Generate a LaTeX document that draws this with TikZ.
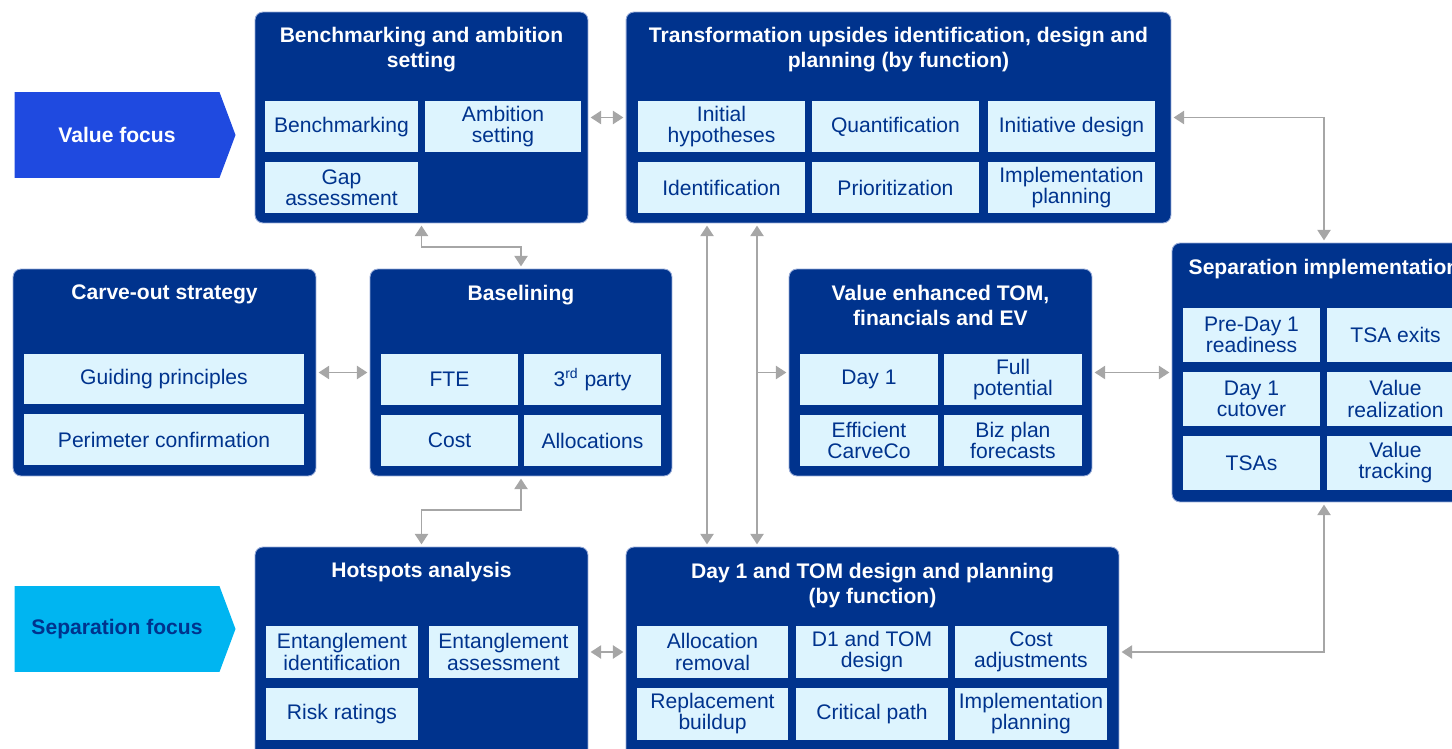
\documentclass[tikz,border=0pt]{standalone}
\usepackage{fontspec}
\setmainfont{Liberation Sans}
\setsansfont{Liberation Sans}
\usetikzlibrary{arrows.meta}
\usetikzlibrary{positioning,shapes.symbols}
\definecolor{navy}{RGB}{0,51,141}
\definecolor{cellblue}{RGB}{221,244,254}
\definecolor{rimblue}{RGB}{150,170,215}
\definecolor{valueblue}{RGB}{31,74,224}
\definecolor{sepblue}{RGB}{0,181,241}
\definecolor{linkgray}{RGB}{166,166,166}
\tikzset{
    every node/.style={font=\fontsize{12}{12}\selectfont, outer sep=0pt},
    panel/.style 2 args={draw=rimblue, line width=0.5pt, fill=navy, rounded corners=4.5pt,
        minimum width=#1, minimum height=#2},
    heading/.style={text=white, align=center, inner sep=0pt,
        font=\fontsize{12}{14.2}\selectfont\bfseries},
    cell/.style={fill=cellblue, text=navy, align=center, inner sep=1pt,
        minimum height=1.02cm, minimum width=#1},
    focus/.style={signal, signal to=east, signal pointer angle=139, inner sep=0pt,
        minimum width=4.42cm, minimum height=1.72cm, font=\fontsize{12}{12}\selectfont\bfseries},
    link/.style={draw=linkgray, line width=1.1pt}
}
\begin{document}
\begin{tikzpicture}[
            x = 0.02cm, y = -0.02cm, % one unit per pixel
            > = {Triangle[length=6pt, width=7.5pt]}, % arrow head style
            shorten > = 1.5pt, shorten < = 1.5pt, % don't touch arrow head to box
            node distance = 0.2cm and 0.14cm % gaps between cells
        ]
        \useasboundingbox (0,0) rectangle (1452,749);
        \clip (0,0) rectangle (1452,749);

        % focus tags
        \node[focus, fill = valueblue, text = white] (valfocus) at (117,135) {Value focus};
        \node[focus, fill = sepblue, text = navy] (sepfocus) at (117,629) {Separation focus};

        % panels
        \node[panel={6.66cm}{4.22cm}] (bench) at (421.5,117.5) {};
        \node[panel={10.9cm}{4.22cm}] (trans) at (898.5,117.5) {};
        \node[panel={6.06cm}{4.14cm}] (carve) at (164.5,372.5) {};
        \node[panel={6.04cm}{4.14cm}] (base) at (521,372.5) {};
        \node[panel={6.06cm}{4.14cm}] (vet) at (940.5,372.5) {};
        \node[panel={6.08cm}{5.18cm}] (sep) at (1324,372.5) {};
        \node[panel={6.66cm}{4.2cm}] (hot) at (421.5,652) {};
        \node[panel={9.86cm}{4.2cm}] (day) at (872.5,652) {};

        \node[heading, below=0.31cm of bench.north] (benchT) {Benchmarking and ambition\\setting};
        \node[heading, below=0.31cm of trans.north] (transT) {Transformation upsides identification, design and\\planning (by function)};
        \node[heading, below=0.32cm of carve.north] (carveT) {Carve-out strategy};
        \node[heading, below=0.32cm of base.north] (baseT) {Baselining};
        \node[heading, below=0.32cm of vet.north] (vetT) {Value enhanced TOM,\\financials and EV};
        \node[heading, below=0.33cm of sep.north] (sepT) {Separation implementation};
        \node[heading, below=0.31cm of hot.north] (hotT) {Hotspots analysis};
        \node[heading, below=0.32cm of day.north] (dayT) {Day 1 and TOM design and planning\\(by function)};

        % benchmarking
        \node[cell=3.06cm] (bm) at (341.5,127) {Benchmarking};
        \node[cell=3.12cm, right=of bm] (amb) {Ambition\\setting};
        \node[cell=3.06cm, below=of bm] (gap) {Gap\\assessment};

        % transformation
        \node[cell=3.34cm] (hyp) at (721.5,127) {Initial\\hypotheses};
        \node[cell=3.34cm, right=of hyp] (quant) {Quantification};
        \node[cell=3.34cm, right=0.18cm of quant] (idesign) {Initiative design};
        \node[cell=3.34cm, below=of hyp] (ident) {Identification};
        \node[cell=3.34cm, below=of quant] (prio) {Prioritization};
        \node[cell=3.34cm, below=of idesign] (iplan) {Implementation\\planning};

        % carve-out
        \node[cell=5.6cm] (guide) at (164,379) {Guiding principles};
        \node[cell=5.6cm, below=of guide] (perim) {Perimeter confirmation};

        % baselining
        \node[cell=2.74cm] (fte) at (449.5,379.5) {FTE};
        \node[cell=2.74cm, right=0.12cm of fte] (third) {3\textsuperscript{rd} party};
        \node[cell=2.74cm, below=of fte] (cost) {Cost};
        \node[cell=2.74cm, below=of third] (alloc) {Allocations};

        % value enhanced TOM
        \node[cell=2.76cm] (dayone) at (869,379.5) {Day 1};
        \node[cell=2.76cm, right=0.12cm of dayone] (fullpot) {Full\\potential};
        \node[cell=2.76cm, below=of dayone] (effco) {Efficient\\CarveCo};
        \node[cell=2.76cm, below=of fullpot] (bizplan) {Biz plan\\forecasts};

        % separation implementation
        \node[cell=2.74cm, minimum height=1.08cm] (preday) at (1251.5,335) {Pre-Day 1\\readiness};
        \node[cell=2.74cm, minimum height=1.08cm, right=of preday] (tsaexit) {TSA exits};
        \node[cell=2.74cm, minimum height=1.08cm, below=of preday] (cutover) {Day 1\\cutover};
        \node[cell=2.74cm, minimum height=1.08cm, below=of tsaexit] (vreal) {Value\\realization};
        \node[cell=2.74cm, minimum height=1.08cm, below=of cutover] (tsas) {TSAs};
        \node[cell=2.74cm, minimum height=1.08cm, below=of vreal] (vtrack) {Value\\tracking};

        % hotspots
        \node[cell=3.04cm, minimum height=1.04cm] (entid) at (342,652) {Entanglement\\identification};
        \node[cell=2.98cm, minimum height=1.04cm, right=0.22cm of entid] (entas) {Entanglement\\assessment};
        \node[cell=3.04cm, minimum height=1.04cm, below=of entid] (risk) {Risk ratings};

        % day 1 and TOM
        \node[cell=3.02cm, minimum height=1.04cm] (allocrem) at (712.5,652) {Allocation\\removal};
        \node[cell=3.04cm, minimum height=1.04cm, right=0.16cm of allocrem] (tomdes) {D1 and TOM\\design};
        \node[cell=3.04cm, minimum height=1.04cm, right=of tomdes] (costadj) {Cost\\adjustments};
        \node[cell=3.02cm, minimum height=1.04cm, below=of allocrem] (repl) {Replacement\\buildup};
        \node[cell=3.04cm, minimum height=1.04cm, below=of tomdes] (crit) {Critical path};
        \node[cell=3.04cm, minimum height=1.04cm, below=of costadj] (dplan) {Implementation\\planning};

        % links
        \coordinate (laneA) at (707,0);
        \coordinate (laneB) at (757,0);

        \draw[link, <->] (bench) -- (trans);
        \draw[link, <->] (carve) -- (base);
        \draw[link, <->] (vet) -- (sep);
        \draw[link, <->] (hot) -- (day);
        \draw[link, <->] (bench.south) -- ++(0,24) -| (base.north);
        \draw[link, <->] (base.south) -- ++(0,34) -| (hot.north);
        \draw[link, <->] (trans.east) -| (sep.north);
        \draw[link, <->] (day.east) -| (sep.south);
        \draw[link, <->] (trans.south -| laneA) -- (day.north -| laneA);
        \draw[link, <->] (trans.south -| laneB) -- (day.north -| laneB);
        \draw[link, ->, shorten < = 0pt] (vet.west -| laneB) -- (vet.west);

  \end{tikzpicture}
\end{document}
